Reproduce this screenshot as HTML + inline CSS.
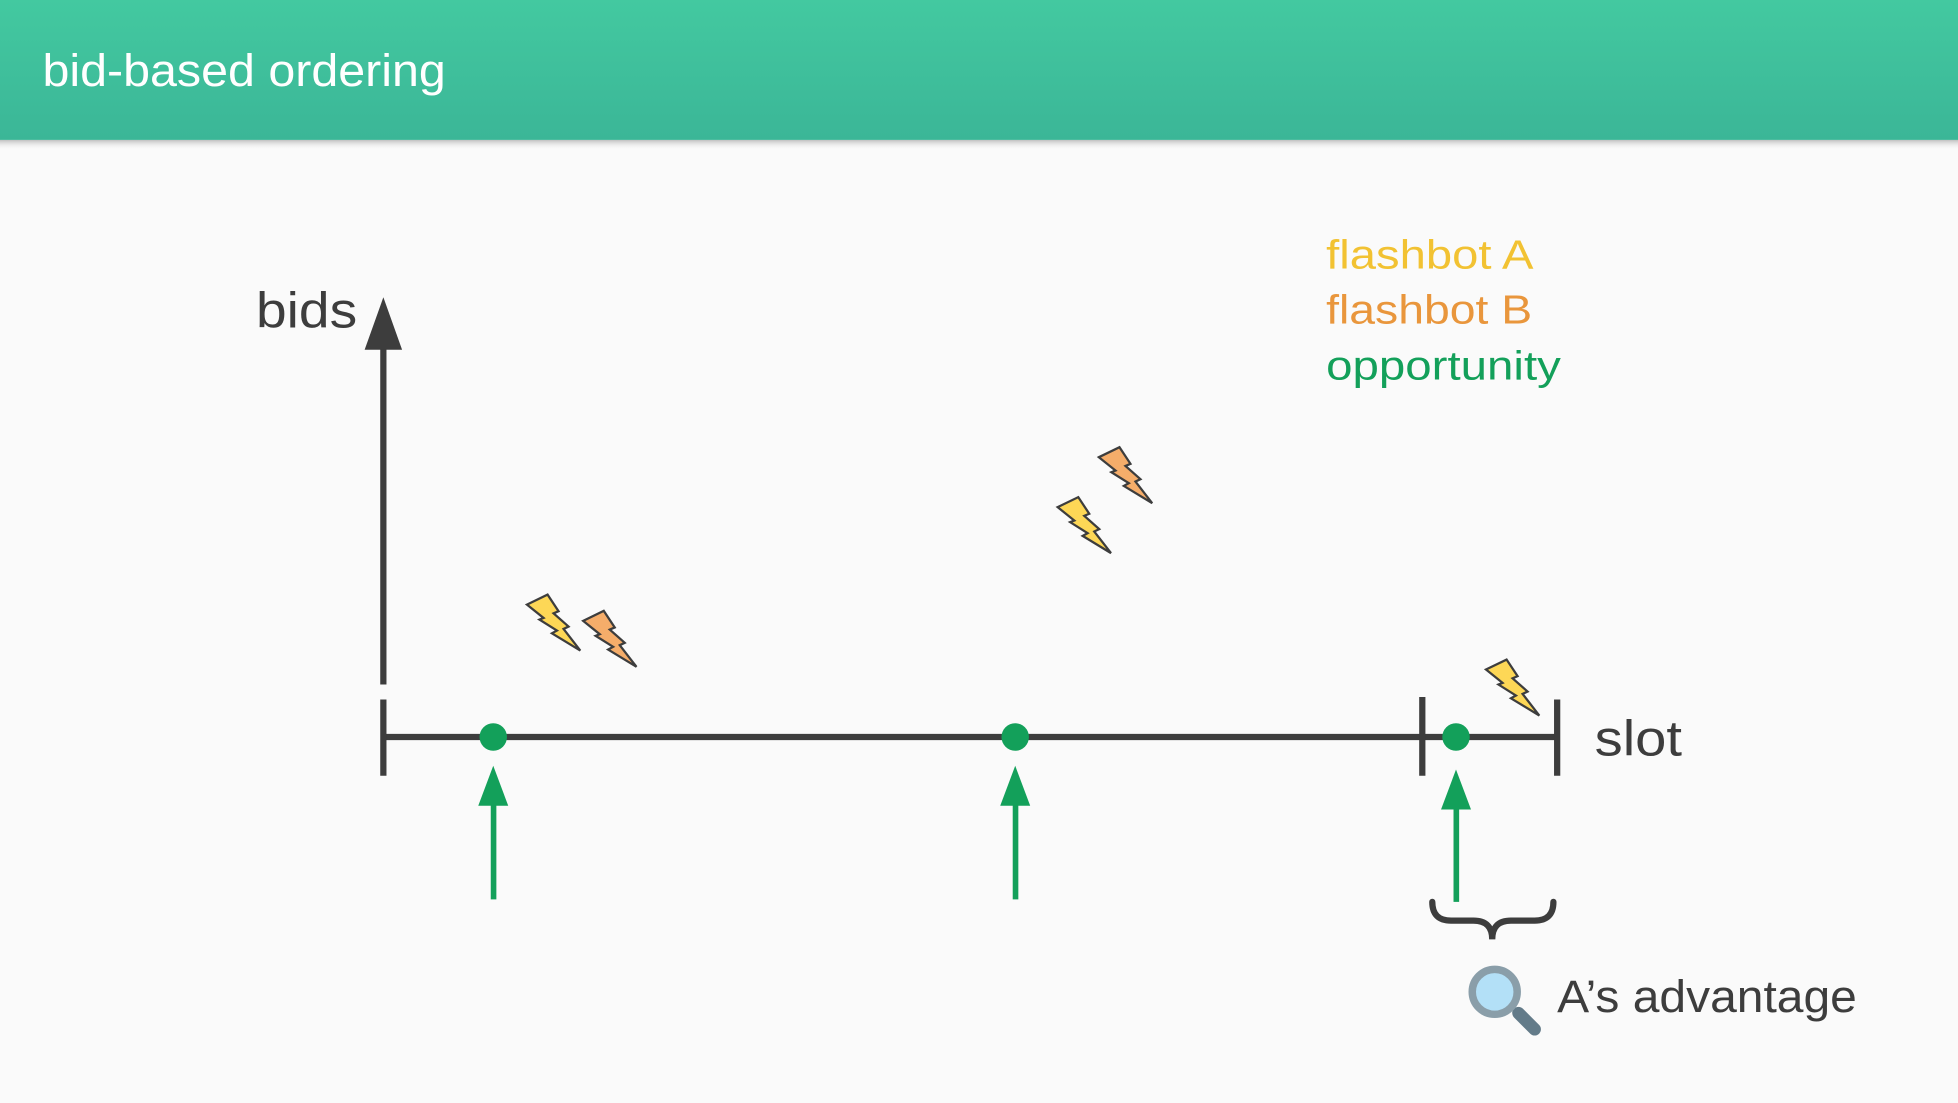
<!DOCTYPE html>
<html><head><meta charset="utf-8"><style>
html,body{margin:0;padding:0;background:#fafafa;}
svg{display:block;}
text{font-family:"Liberation Sans",sans-serif;}
</style></head><body>
<svg width="1958" height="1103" viewBox="0 0 1568 883" preserveAspectRatio="none" xmlns="http://www.w3.org/2000/svg">
<defs>
<linearGradient id="hg" x1="0" y1="0" x2="0" y2="1"><stop offset="0" stop-color="#43c9a0"/><stop offset="1" stop-color="#3bb697"/></linearGradient>
<linearGradient id="sh" x1="0" y1="0" x2="0" y2="1"><stop offset="0" stop-color="#999" stop-opacity="0.6"/><stop offset="1" stop-color="#fafafa" stop-opacity="0"/></linearGradient>
<path id="bolt" d="M0,8 L16.5,0 L25.3,13.3 L21.3,15 L33.3,25.6 L29.3,27.5 L42.7,44.8 L20,31 L24,28.8 L10,20 L13.3,18.7 Z" stroke="#3d3d3d" stroke-width="1.8" stroke-linejoin="miter"/>
</defs>
<rect x="0" y="0" width="1568" height="883" fill="#fafafa"/>
<rect x="0" y="112" width="1568" height="8" fill="url(#sh)"/>
<rect x="0" y="0" width="1568" height="112" fill="url(#hg)"/>
<text x="34" y="69" font-size="36" fill="#fff" textLength="323" lengthAdjust="spacingAndGlyphs">bid-based ordering</text>

<text x="1062" y="215" font-size="33" fill="#f2c232" textLength="166" lengthAdjust="spacingAndGlyphs">flashbot A</text>
<text x="1062" y="259" font-size="33" fill="#e9963c" textLength="165" lengthAdjust="spacingAndGlyphs">flashbot B</text>
<text x="1062" y="304" font-size="33" fill="#13a05a" textLength="188" lengthAdjust="spacingAndGlyphs">opportunity</text>

<text x="205" y="262" font-size="40" fill="#3d3d3d" textLength="81" lengthAdjust="spacingAndGlyphs">bids</text>
<line x1="307" y1="548" x2="307" y2="275" stroke="#3d3d3d" stroke-width="5"/>
<polygon points="292,280 322,280 307,238" fill="#3d3d3d"/>

<line x1="307" y1="590" x2="1247" y2="590" stroke="#3d3d3d" stroke-width="5"/>
<line x1="307" y1="560" x2="307" y2="621" stroke="#3d3d3d" stroke-width="5"/>
<line x1="1139" y1="558" x2="1139" y2="621" stroke="#3d3d3d" stroke-width="5"/>
<line x1="1247" y1="560" x2="1247" y2="621" stroke="#3d3d3d" stroke-width="5"/>
<text x="1277" y="605" font-size="40" fill="#3d3d3d" textLength="70" lengthAdjust="spacingAndGlyphs">slot</text>

<g fill="#13a05a">
<circle cx="395" cy="590" r="11"/><circle cx="813" cy="590" r="11"/><circle cx="1166" cy="590" r="11"/>
<rect x="393" y="640" width="4.5" height="80"/><polygon points="383,645 407,645 395,613"/>
<rect x="811" y="640" width="4.5" height="80"/><polygon points="801,645 825,645 813,613"/>
<rect x="1164" y="645" width="4.5" height="77"/><polygon points="1154,648 1178,648 1166,616"/>
</g>

<use href="#bolt" x="422" y="476" fill="#fdd756"/>
<use href="#bolt" x="467" y="489" fill="#f5ad6a"/>
<use href="#bolt" x="880" y="358" fill="#f5ad6a"/>
<use href="#bolt" x="847" y="398" fill="#fdd756"/>
<use href="#bolt" x="1190" y="528" fill="#fdd756"/>

<path d="M1147,722 Q1147,737 1162,737 L1180,737 Q1195,737 1195,752 Q1195,737 1210,737 L1229,737 Q1244,737 1244,722" fill="none" stroke="#3d3d3d" stroke-width="5" stroke-linecap="round"/>

<line x1="1216" y1="811" x2="1229" y2="824" stroke="#637b89" stroke-width="10" stroke-linecap="round"/>
<circle cx="1197" cy="794" r="18" fill="#b3e0f7" stroke="#8a9ea9" stroke-width="6"/>
<text x="1247" y="810" font-size="36" fill="#3d3d3d" textLength="240" lengthAdjust="spacingAndGlyphs">A’s advantage</text>
</svg>
</body></html>
